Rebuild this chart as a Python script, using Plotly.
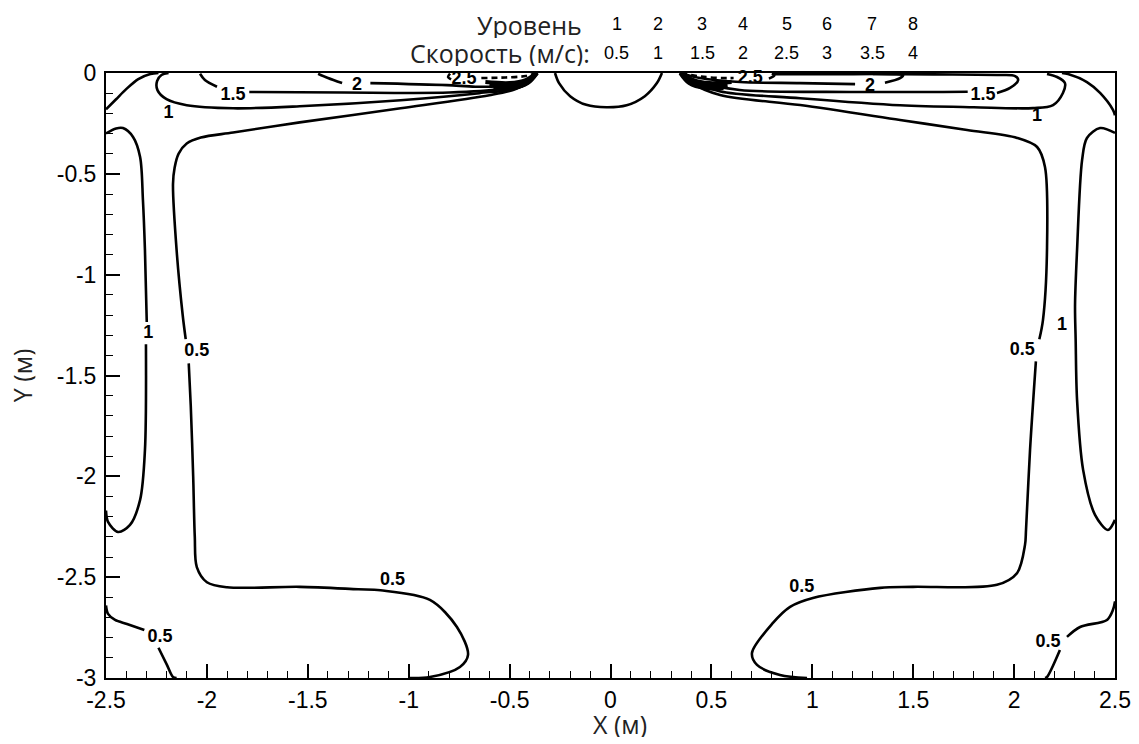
import plotly.graph_objects as go

# ---------------- data (metres) ----------------
levels = [1, 2, 3, 4, 5, 6, 7, 8]
speeds = ["0.5", "1", "1.5", "2", "2.5", "3", "3.5", "4"]

x_ticks = [-2.5, -2, -1.5, -1, -0.5, 0, 0.5, 1, 1.5, 2, 2.5]
y_ticks = [0, -0.5, -1, -1.5, -2, -2.5, -3]

# ---- left half ----
corner_L_x = [-2.5, -2.45, -2.40, -2.34, -2.28, -2.24]
corner_L_y = [-0.18, -0.13, -0.08, -0.03, -0.005, 0.0]

c1_top_L_x = [-2.19, -2.225, -2.247, -2.245, -2.20, -2.10, -1.87, -1.54, -1.04, -0.65, -0.46, -0.39, -0.365]
c1_top_L_y = [0.0, -0.01, -0.04, -0.085, -0.13, -0.16, -0.175, -0.165, -0.135, -0.10, -0.075, -0.035, 0.0]

c15_L_x = [-2.034, -2.01, -1.95, None, -1.79, -1.32, -0.80, -0.55, -0.42, -0.365]
c15_L_y = [-0.004, -0.035, -0.068, None, -0.094, -0.097, -0.097, -0.08, -0.045, 0.0]

c2_L_x = [-1.449, -1.40, -1.33, None, -1.19, -0.81, -0.67, -0.52, -0.41, -0.367]
c2_L_y = [-0.004, -0.025, -0.05, None, -0.05, -0.06, -0.068, -0.063, -0.03, 0.0]

c25_L_hook_x = [-0.795, -0.805, -0.79]
c25_L_hook_y = [-0.003, -0.02, -0.032]
c25_L_tail_x = [-0.64, -0.52, -0.42, -0.368]
c25_L_tail_y = [-0.025, -0.022, -0.015, 0.0]

c3_L_x = [-0.62, -0.50, -0.42, -0.366]
c3_L_y = [-0.045, -0.05, -0.035, 0.0]
c35_L_x = [-0.60, -0.50, -0.42, -0.365]
c35_L_y = [-0.06, -0.065, -0.045, 0.0]
c4_L_x = [-0.58, -0.49, -0.41, -0.364]
c4_L_y = [-0.075, -0.075, -0.05, 0.0]

c05_L_x = [-0.362, -0.40, -0.47, -0.60, -1.04, -1.54, -1.87, -2.03, -2.10, -2.14, -2.16, -2.168, -2.15,
           -2.12, -2.105, None, -2.09, -2.08, -2.068, -2.06, -2.05, -2.00, -1.90, -1.54, -1.25, -1.14,
           -0.895, -0.761, -0.706, -0.746, -0.895, -0.994]
c05_L_y = [0.0, -0.04, -0.08, -0.11, -0.175, -0.245, -0.295, -0.32, -0.35, -0.40, -0.47, -0.55, -0.88,
           -1.2, -1.32, None, -1.44, -1.65, -2.0, -2.30, -2.45, -2.525, -2.55, -2.548, -2.56, -2.565,
           -2.613, -2.747, -2.885, -2.945, -2.995, -3.0]

c1_wall_L_x = [-2.5, -2.45, -2.416, -2.366, -2.331, -2.317, -2.307, -2.298, None, -2.302, -2.307,
               -2.331, -2.381, -2.44, -2.49, -2.5]
c1_wall_L_y = [-0.30, -0.275, -0.273, -0.317, -0.416, -0.63, -0.878, -1.235, None, -1.345, -1.87,
               -2.117, -2.241, -2.276, -2.226, -2.17]

c05_corner_L_x = [-2.5, -2.49, -2.455, -2.396, -2.31, None, -2.24, -2.198, -2.168, -2.15]
c05_corner_L_y = [-2.64, -2.682, -2.712, -2.732, -2.762, None, -2.85, -2.935, -2.995, -3.0]

# ---- centre bump ----
bump_x = [-0.275, -0.255, -0.20, -0.12, -0.02, 0.08, 0.17, 0.23, 0.255]
bump_y = [0.0, -0.05, -0.115, -0.158, -0.17, -0.16, -0.115, -0.05, 0.0]

# ---- right half ----
corner_R_x = [2.237, 2.267, 2.361, 2.426, 2.49, 2.5]
corner_R_y = [0.0, -0.005, -0.045, -0.099, -0.183, -0.21]

c1_top_R_x = [0.36, 0.40, 0.54, 0.94, 1.435, 1.80, 2.094, 2.193, 2.242, 2.252, 2.213, 2.163]
c1_top_R_y = [0.0, -0.035, -0.09, -0.125, -0.16, -0.17, -0.174, -0.159, -0.099, -0.05, -0.02, -0.005]

c15_R_x = [0.345, 0.44, 0.64, 1.19, 1.77, None, 1.915, 1.98, 2.02, 2.005, 1.93, 1.60, 1.30]
c15_R_y = [0.0, -0.045, -0.084, -0.094, -0.093, None, -0.099, -0.074, -0.035, -0.015, -0.01, -0.007, -0.005]

c2_R_x = [0.345, 0.444, 0.642, 0.94, 1.212, None, 1.36, 1.435, 1.45, 1.40, 1.10, 0.80]
c2_R_y = [0.0, -0.025, -0.045, -0.05, -0.055, None, -0.048, -0.025, -0.01, -0.006, -0.006, -0.006]

c25_R_tail_x = [0.35, 0.45, 0.55, 0.61]
c25_R_tail_y = [0.0, -0.018, -0.025, -0.025]
c25_R_hook_x = [0.785, 0.812, 0.80]
c25_R_hook_y = [-0.028, -0.012, -0.002]

c3_R_x = [0.60, 0.49, 0.41, 0.348]
c3_R_y = [-0.045, -0.05, -0.035, 0.0]
c35_R_x = [0.58, 0.48, 0.40, 0.347]
c35_R_y = [-0.06, -0.065, -0.045, 0.0]
c4_R_x = [0.56, 0.47, 0.39, 0.346]
c4_R_y = [-0.075, -0.075, -0.05, 0.0]

c05_R_x = [0.344, 0.394, 0.543, 0.94, 1.435, 1.767, 2.015, 2.114, 2.153, 2.163, 2.143, 2.125, None,
           2.108, 2.079, 2.059, 2.054, 2.015, 1.915, 1.499, 1.336, 1.003, 0.89, 0.805, 0.701, 0.726,
           0.84, 0.974]
c05_R_y = [0.0, -0.045, -0.109, -0.159, -0.233, -0.283, -0.322, -0.367, -0.466, -0.878, -1.225, -1.32, None,
           -1.43, -1.869, -2.266, -2.34, -2.479, -2.538, -2.548, -2.553, -2.603, -2.647, -2.727, -2.876,
           -2.935, -2.985, -3.0]

c1_wall_R_x = [2.5, 2.426, 2.361, 2.337, 2.312, 2.302, 2.305, 2.312, 2.342, 2.401, 2.465, 2.5]
c1_wall_R_y = [-0.297, -0.273, -0.322, -0.431, -0.878, -1.15, -1.32, -1.621, -1.968, -2.191, -2.266, -2.216]

c05_corner_R_x = [2.5, 2.49, 2.46, 2.327, 2.262, None, 2.227, 2.163, 2.153]
c05_corner_R_y = [-2.62, -2.662, -2.712, -2.747, -2.796, None, -2.861, -2.995, -3.0]

# contour labels
label_text = ["1", "1.5", "2", "2.5", "0.5", "1", "0.5", "0.5",
              "1", "1.5", "2", "2.5", "0.5", "1", "0.5", "0.5"]
label_x = [-2.19, -1.87, -1.256, -0.726, -2.05, -2.29, -1.08, -2.232,
           2.114, 1.846, 1.286, 0.692, 2.04, 2.237, 0.948, 2.168]
label_y = [-0.20, -0.112, -0.062, -0.03, -1.38, -1.29, -2.518, -2.80,
           -0.218, -0.112, -0.066, -0.029, -1.375, -1.25, -2.553, -2.826]

# ---------------- figure ----------------
fig = go.Figure()

solid = [
    (corner_L_x, corner_L_y), (c1_top_L_x, c1_top_L_y), (c15_L_x, c15_L_y), (c2_L_x, c2_L_y),
    (c25_L_hook_x, c25_L_hook_y),
    (c05_L_x, c05_L_y), (c1_wall_L_x, c1_wall_L_y), (c05_corner_L_x, c05_corner_L_y),
    (bump_x, bump_y),
    (corner_R_x, corner_R_y), (c1_top_R_x, c1_top_R_y), (c15_R_x, c15_R_y), (c2_R_x, c2_R_y),
    (c25_R_hook_x, c25_R_hook_y),
    (c05_R_x, c05_R_y), (c1_wall_R_x, c1_wall_R_y), (c05_corner_R_x, c05_corner_R_y),
]
for xs, ys in solid:
    fig.add_trace(go.Scatter(x=xs, y=ys, mode="lines", showlegend=False, hoverinfo="skip",
                             line=dict(color="black", width=2.6, shape="spline", smoothing=0.9)))

# dense high-speed lines near the inlets
for xs, ys in [(c3_L_x, c3_L_y), (c35_L_x, c35_L_y), (c4_L_x, c4_L_y),
               (c3_R_x, c3_R_y), (c35_R_x, c35_R_y), (c4_R_x, c4_R_y)]:
    fig.add_trace(go.Scatter(x=xs, y=ys, mode="lines", showlegend=False, hoverinfo="skip",
                             line=dict(color="black", width=4, shape="spline", smoothing=0.9)))

for xs, ys in [(c25_L_tail_x, c25_L_tail_y), (c25_R_tail_x, c25_R_tail_y)]:
    fig.add_trace(go.Scatter(x=xs, y=ys, mode="lines", showlegend=False, hoverinfo="skip",
                             line=dict(color="black", width=2.6, dash="6px,4px",
                                       shape="spline", smoothing=0.9)))

fig.add_trace(go.Scatter(x=label_x, y=label_y, mode="text", text=label_text, showlegend=False,
                         hoverinfo="skip", cliponaxis=False,
                         textfont=dict(family="Liberation Sans, Arial", size=18, color="black",
                                       weight="bold")))

axis_common = dict(
    showline=True, linecolor="black", linewidth=2, mirror=True,
    ticks="inside", ticklen=14, tickwidth=2, tickcolor="black",
    minor=dict(ticks="inside", ticklen=7, tickwidth=1, tickcolor="black", dtick=0.1),
    showgrid=False, zeroline=False, automargin=False,
    tickfont=dict(family="Liberation Sans, Arial", size=23, color="black"),
)

fig.update_xaxes(range=[-2.5, 2.5], tickvals=x_ticks,
                 ticktext=[f"{v:g}" for v in x_ticks], **axis_common)
fig.update_yaxes(range=[-3, 0], tickvals=y_ticks, ticklabelstandoff=3,
                 ticktext=[f"{v:g}" for v in y_ticks], **axis_common)

# top "legend" table
col_paper_x = [0.5064, 0.5471, 0.5907, 0.6313, 0.6749, 0.7146, 0.7592, 0.7998]
title_font = dict(family="Open Sans", size=25, color="#222")
num_font = dict(family="Liberation Sans, Arial", size=18, color="black")
ann = []
ann.append(dict(text="Уровень", x=0.4737, y=1.079, xref="paper", yref="paper", xanchor="right",
                yanchor="middle", showarrow=False, font=title_font, height=26))
ann.append(dict(text="Скорость (м/с):", x=0.4817, y=1.033, xref="paper", yref="paper",
                xanchor="right", yanchor="middle", showarrow=False, font=title_font, height=26))
for lv, sp, px in zip(levels, speeds, col_paper_x):
    ann.append(dict(text=str(lv), x=px, y=1.081, xref="paper", yref="paper", xanchor="center",
                    yanchor="middle", showarrow=False, font=num_font, height=20))
    ann.append(dict(text=sp, x=px, y=1.033, xref="paper", yref="paper", xanchor="center",
                    yanchor="middle", showarrow=False, font=num_font, height=20))
ann.append(dict(text="X (м)", x=0.5094, y=-0.076, xref="paper", yref="paper", xanchor="center",
                yanchor="middle", showarrow=False, font=title_font, height=26))
ann.append(dict(text="Y (м)", x=-0.083, y=0.501, xref="paper", yref="paper", xanchor="center",
                yanchor="middle", showarrow=False, textangle=-90, font=title_font, height=26))

# the page body has an 8 px default margin, so the figure is 8 px smaller on each axis
fig.update_layout(
    width=1131, height=736,
    margin=dict(l=98, r=24, t=65, b=66),
    paper_bgcolor="white", plot_bgcolor="white",
    annotations=ann,
)

fig.write_html("out.html")
